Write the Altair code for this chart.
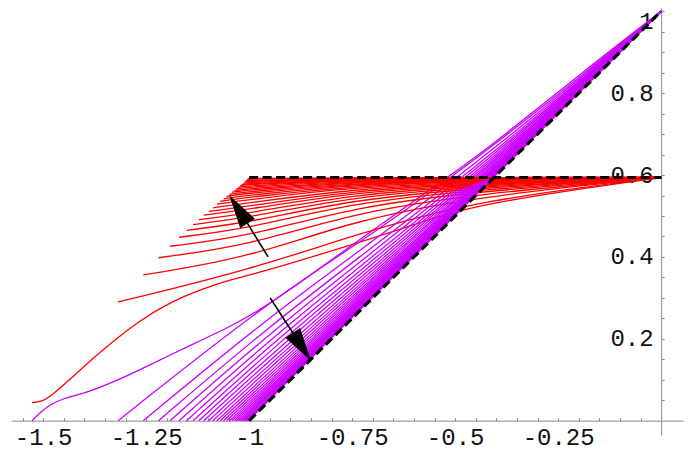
import altair as alt
import pandas as pd

# ---- data ----
# shared left-end abscissae of the curve pairs (red start / purple foot)
start_x = [-1.527, -1.318, -1.257, -1.220, -1.192, -1.170, -1.152, -1.136, -1.122, -1.110,
           -1.098, -1.088, -1.078, -1.070, -1.062, -1.055, -1.048, -1.042, -1.036, -1.031,
           -1.026, -1.022, -1.018, -1.014, -1.011, -1.008, -1.005, -1.002]

# red family: start heights and heights at x = -1.0, -0.75, -0.45 ; all end at (0, red_end_y)
red_start_y = [0.044, 0.290, 0.356, 0.398, 0.426, 0.448, 0.465, 0.479, 0.491, 0.502,
               0.511, 0.520, 0.529, 0.536, 0.542, 0.548, 0.553, 0.558, 0.562, 0.566,
               0.570, 0.574, 0.577, 0.580, 0.583, 0.586, 0.589, 0.591]
red_y_at_m100 = [0.352, 0.368, 0.398, 0.428, 0.450, 0.470, 0.484, 0.496, 0.506, 0.516,
                 0.524, 0.532, 0.540, 0.546, 0.551, 0.556, 0.560, 0.564, 0.567, 0.571,
                 0.574, 0.577, 0.579, 0.582, 0.585, 0.587, 0.590, 0.592]
red_y_at_m075 = [0.430, 0.452, 0.488, 0.507, 0.521, 0.532, 0.540, 0.547, 0.553, 0.558,
                 0.562, 0.566, 0.570, 0.573, 0.576, 0.578, 0.580, 0.582, 0.584, 0.585,
                 0.587, 0.588, 0.589, 0.590, 0.591, 0.592, 0.593, 0.593]
red_y_at_m045 = [0.530, 0.538, 0.547, 0.554, 0.560, 0.564, 0.568, 0.571, 0.574, 0.577,
                 0.579, 0.581, 0.583, 0.585, 0.586, 0.587, 0.588, 0.589, 0.590, 0.591,
                 0.591, 0.592, 0.592, 0.593, 0.593, 0.594, 0.594, 0.594]
red_end_y = 0.594
# outermost red curve (S-shaped)
red_s_x = [-1.527, -1.505, -1.483, -1.430, -1.362, -1.265, -1.190, -1.119, -1.040, -0.949,
           -0.880, -0.750, -0.600, -0.450, 0.0]
red_s_y = [0.044, 0.046, 0.058, 0.105, 0.168, 0.246, 0.290, 0.320, 0.346, 0.369,
           0.390, 0.430, 0.478, 0.530, 0.594]

# purple family: feet on y = 0, heights at x = -0.95, -0.70, -0.40 ; all end at (0, 1)
purple_y_at_m095 = [0.283, 0.294, 0.255, 0.232, 0.214, 0.198, 0.184, 0.171, 0.159, 0.148,
                    0.138, 0.129, 0.120, 0.112, 0.105, 0.098, 0.092, 0.087, 0.082, 0.078,
                    0.074, 0.070, 0.067, 0.064, 0.061, 0.058, 0.055, 0.052]
purple_y_at_m070 = [0.466, 0.455, 0.438, 0.424, 0.412, 0.401, 0.392, 0.383, 0.375, 0.368,
                    0.361, 0.355, 0.349, 0.344, 0.339, 0.335, 0.331, 0.327, 0.324, 0.321,
                    0.318, 0.315, 0.313, 0.310, 0.308, 0.306, 0.304, 0.302]
purple_y_at_m040 = [0.681, 0.674, 0.666, 0.659, 0.653, 0.648, 0.643, 0.639, 0.635, 0.631,
                    0.628, 0.625, 0.622, 0.620, 0.618, 0.616, 0.614, 0.612, 0.611, 0.609,
                    0.608, 0.607, 0.606, 0.605, 0.604, 0.603, 0.602, 0.601]
purple_end_y = 1.0
# outermost purple curve (S-shaped)
purple_s_x = [-1.527, -1.505, -1.483, -1.450, -1.402, -1.340, -1.280, -1.160, -1.040, -0.950,
              -0.700, -0.510, -0.400, -0.190, 0.0]
purple_s_y = [0.000, 0.022, 0.039, 0.055, 0.066, 0.090, 0.117, 0.176, 0.232, 0.283,
              0.466, 0.600, 0.681, 0.852, 1.0]

# dashed limit lines
dash_h_x = [-1.0, 0.0]
dash_h_y = [0.594, 0.594]
dash_d_x = [-1.0, 0.0]
dash_d_y = [0.0, 1.0]

# arrows: tail, base of head, head centre, head direction (deg, clockwise from up)
arrow_tail_x = [-0.954, -0.949]
arrow_tail_y = [0.400, 0.300]
arrow_base_x = [-1.004, -0.893]
arrow_base_y = [0.482, 0.213]
arrow_head_x = [-1.026, -0.872]
arrow_head_y = [0.516, 0.180]
arrow_angle = [327, 147]

# axis ticks
x_ticks = [-1.55, -1.5, -1.45, -1.4, -1.35, -1.3, -1.25, -1.2, -1.15, -1.1, -1.05, -1.0,
           -0.95, -0.9, -0.85, -0.8, -0.75, -0.7, -0.65, -0.6, -0.55, -0.5, -0.45, -0.4,
           -0.35, -0.3, -0.25, -0.2, -0.15, -0.1, -0.05]
y_ticks = [0.05, 0.1, 0.15, 0.2, 0.25, 0.3, 0.35, 0.4, 0.45, 0.5, 0.55, 0.6, 0.65, 0.7,
           0.75, 0.8, 0.85, 0.9, 0.95, 1.0]

# ---- build tables ----
rows = []
for k, xs in enumerate(start_x):
    if k == 0:
        p_pts = list(zip(purple_s_x, purple_s_y))
        r_pts = list(zip(red_s_x, red_s_y))
    else:
        p_pts = [(xs, 0.0), (-0.95, purple_y_at_m095[k]), (-0.70, purple_y_at_m070[k]),
                 (-0.40, purple_y_at_m040[k]), (0.0, purple_end_y)]
        r_pts = [(xs, red_start_y[k]), (-1.0, red_y_at_m100[k]), (-0.75, red_y_at_m075[k]),
                 (-0.45, red_y_at_m045[k]), (0.0, red_end_y)]
    for i, (x, y) in enumerate(p_pts):
        rows.append({"x": x, "y": y, "curve": f"{k:02d}a", "fam": "purple", "o": i})
    for i, (x, y) in enumerate(r_pts):
        rows.append({"x": x, "y": y, "curve": f"{k:02d}b", "fam": "red", "o": i})
curves = pd.DataFrame(rows)

dashes = pd.DataFrame(
    [{"x": x, "y": y, "seg": "h", "o": i} for i, (x, y) in enumerate(zip(dash_h_x, dash_h_y))]
    + [{"x": x, "y": y, "seg": "d", "o": i} for i, (x, y) in enumerate(zip(dash_d_x, dash_d_y))]
)
arrows = pd.DataFrame({
    "tx": arrow_tail_x, "ty": arrow_tail_y, "bx": arrow_base_x, "by": arrow_base_y,
    "hx": arrow_head_x, "hy": arrow_head_y, "ang": arrow_angle,
})

# ---- layout ----
W, H = 672, 427
x_dom = [-1.578, 0.053]
y_dom = [-0.035, 1.008]
x_axis_offset = -H * (y_dom[1] - 0.0) / (y_dom[1] - y_dom[0])
y_axis_offset = -W * (x_dom[1] - 0.0) / (x_dom[1] - x_dom[0])

FONT = "Liberation Mono"
FS = 24
AX = "#8a8a8a"

xscale = alt.Scale(domain=x_dom, nice=False, zero=False)
yscale = alt.Scale(domain=y_dom, nice=False, zero=False)

x_axis = alt.Axis(
    orient="top", offset=x_axis_offset, values=x_ticks, title=None, grid=False,
    tickSize=3, tickColor=AX, domainColor=AX, domainWidth=1, tickWidth=1,
    labelExpr="abs(datum.value*4 - round(datum.value*4)) < 1e-6 ? toString(datum.value) : ''",
    labelBaseline="alphabetic", labelPadding=-26.5, labelFont=FONT, labelFontSize=FS,
    labelColor="#111", labelOverlap=False, labelFlush=False, labelBound=False,
)
y_axis = alt.Axis(
    orient="right", offset=y_axis_offset, values=y_ticks, title=None, grid=False,
    tickSize=3, tickColor=AX, domainColor=AX, domainWidth=1, tickWidth=1,
    labelExpr="abs(datum.value*5 - round(datum.value*5)) < 1e-6 ? toString(round(datum.value*10)/10) : ''",
    labelAlign="right", labelBaseline="middle", labelPadding=-11, labelFont=FONT,
    labelFontSize=FS, labelColor="#111", labelOverlap=False, labelFlush=False, labelBound=False,
    labelOffset={"condition": {"test": "datum.value > 0.99", "value": 10.5}, "value": 0},
)


def X(field):
    return alt.X(field, type="quantitative", scale=xscale, axis=x_axis)


def Y(field):
    return alt.Y(field, type="quantitative", scale=yscale, axis=y_axis)


lines = alt.Chart(curves).mark_line(strokeWidth=1.3, interpolate="basis").encode(
    x=X("x"),
    y=Y("y"),
    color=alt.Color("fam:N", scale=alt.Scale(domain=["purple", "red"], range=["#cc00ff", "#ff0000"]), legend=None),
    detail="curve:N",
    order="o:Q",
)

dash_layer = alt.Chart(dashes).mark_line(
    color="black", strokeWidth=3.2, strokeDash=[9, 4.5], strokeCap="butt"
).encode(
    x=X("x"),
    y=Y("y"),
    detail="seg:N",
    order="o:Q",
)

shafts = alt.Chart(arrows).mark_rule(color="black", strokeWidth=1.6).encode(
    x=X("tx"), y=Y("ty"),
    x2="bx:Q", y2="by:Q",
)

heads = alt.Chart(arrows).mark_point(
    shape="M0,-1L0.52,1L-0.52,1Z", filled=True, color="black", opacity=1, size=1130, strokeWidth=0
).encode(
    x=X("hx"), y=Y("hy"),
    angle=alt.Angle("ang:Q", scale=None),
)

chart = alt.layer(lines, dash_layer, shafts, heads).properties(
    width=W, height=H,
    autosize=alt.AutoSizeParams(type="none"),
    padding={"left": 3, "top": 0, "right": 1, "bottom": 16},
    background="white",
).configure_view(stroke=None)

chart.save("out.html", embed_options={"renderer": "svg", "actions": False})
